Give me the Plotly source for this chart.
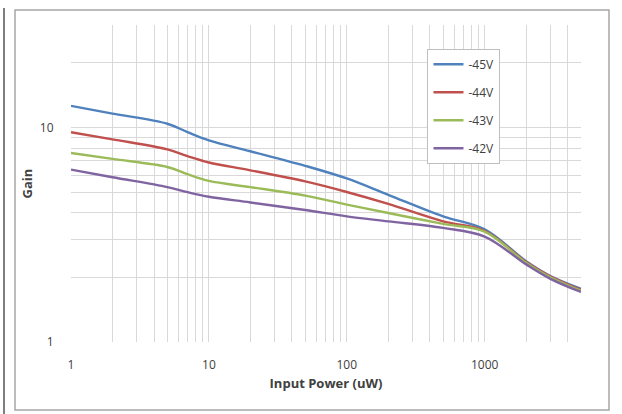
import plotly.graph_objects as go
import math

power_uw = [1, 2, 5, 7, 10, 20, 50, 100, 200, 500, 1000, 2000, 3000, 5000]
gain_45v = [12.6, 11.6, 10.4, 9.5, 8.7, 7.74, 6.62, 5.78, 4.85, 3.85, 3.35, 2.38, 2.03, 1.77]
gain_44v = [9.5, 8.8, 7.9, 7.35, 6.86, 6.31, 5.6, 5.0, 4.4, 3.65, 3.3, 2.36, 2.02, 1.75]
gain_43v = [7.6, 7.13, 6.54, 6.05, 5.63, 5.27, 4.81, 4.37, 3.99, 3.55, 3.27, 2.34, 2.0, 1.73]
gain_42v = [6.36, 5.86, 5.27, 4.99, 4.75, 4.47, 4.12, 3.85, 3.65, 3.4, 3.1, 2.3, 1.97, 1.71]

series_names = ["-45V", "-44V", "-43V", "-42V"]
series_values = [gain_45v, gain_44v, gain_43v, gain_42v]
series_colors = ["#4F81BD", "#C0504D", "#9BBB59", "#8064A2"]

x_ticks = [1, 10, 100, 1000]
y_ticks = [1, 10]

fig = go.Figure()
for name, vals, col in zip(series_names, series_values, series_colors):
    fig.add_trace(go.Scatter(
        x=power_uw, y=vals, name=name, mode="lines", legendgroup=name,
        line=dict(color=col, width=2.4, shape="spline", smoothing=1.0),
    ))

grid = "#D9D9D9"
font_col = "#404040"
fig.update_layout(
    width=622, height=414,
    margin=dict(l=71, r=41, t=25, b=72),
    paper_bgcolor="white", plot_bgcolor="white",
    font=dict(family="Open Sans, Liberation Sans, sans-serif", size=12, color=font_col),
    showlegend=True,
    legend=dict(
        x=0.699, y=0.925, xanchor="left", yanchor="top",
        bgcolor="white", bordercolor="#BFBFBF", borderwidth=1,
        font=dict(size=12, color=font_col),
        tracegroupgap=9, itemwidth=30,
    ),
    xaxis=dict(
        type="log", range=[0, math.log10(5000)],
        tickvals=x_ticks, ticktext=[str(v) for v in x_ticks],
        showgrid=True, gridcolor=grid, gridwidth=1,
        minor=dict(showgrid=True, gridcolor=grid, dtick="D1"),
        ticks="outside", ticklen=12, tickcolor="rgba(0,0,0,0)",
        showline=False, zeroline=False,
        title=dict(text="<b>Input Power (uW)</b>", font=dict(size=13, color=font_col), standoff=6),
    ),
    yaxis=dict(
        type="log", range=[0, math.log10(30)],
        tickvals=y_ticks, ticktext=[str(v) for v in y_ticks],
        showgrid=True, gridcolor=grid, gridwidth=1,
        minor=dict(showgrid=True, gridcolor=grid, dtick="D1"),
        ticks="outside", ticklen=14, tickcolor="rgba(0,0,0,0)",
        showline=False, zeroline=False,
        title=dict(text="<b>Gain</b>", font=dict(size=13, color=font_col), standoff=4),
    ),
    shapes=[
        dict(type="rect", xref="paper", yref="paper", layer="below",
             x0=-56 / 510, x1=(609 - 71) / 510, y0=-(410 - 342) / 317, y1=(342 - 10) / 317,
             line=dict(color="#A6A6A6", width=1.5), fillcolor="rgba(0,0,0,0)"),
        dict(type="line", xref="paper", yref="paper",
             x0=-67 / 510, x1=-67 / 510, y0=-(414 - 342) / 317, y1=(342 - 8) / 317,
             line=dict(color="#7F7F7F", width=2)),
    ],
)

fig.write_html("out.html")
